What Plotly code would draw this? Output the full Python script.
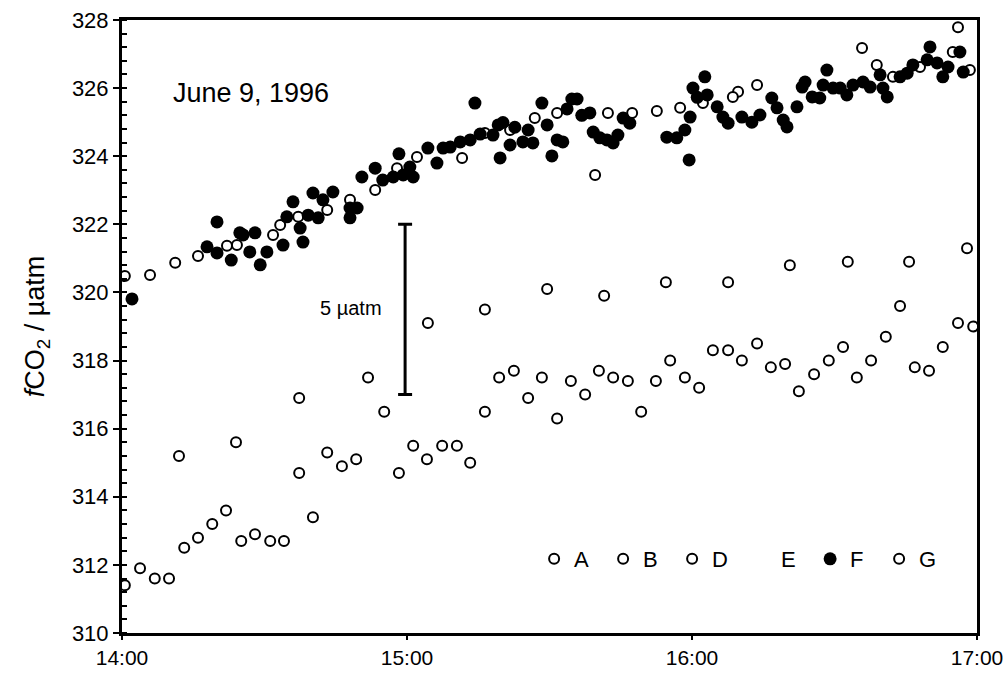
import plotly.graph_objects as go

# time in minutes after 14:00, values in uatm
A_t = [0.6, 5.9, 11.2, 16.0, 22.1, 33.3, 43.2, 53.3, 62.1, 76.4, 86.9, 96.8, 102.3, 112.6, 122.3, 129.7, 155.8, 162.3, 174.9, 178.5]
A_v = [320.48, 320.51, 320.87, 321.07, 321.37, 321.98, 322.42, 323.01, 323.98, 324.68, 325.12, 325.20, 325.27, 325.33, 325.56, 325.89, 327.18, 326.33, 327.06, 326.53]

D_t = [24.2, 31.8, 37.1, 48.0, 57.9, 71.6, 81.7, 91.6, 99.6, 107.4, 117.5, 128.6, 133.7, 158.9, 168.0, 176.0]
D_v = [321.39, 321.69, 322.22, 322.72, 323.65, 323.95, 324.77, 325.27, 323.45, 325.27, 325.42, 325.74, 326.09, 326.68, 326.62, 327.79]

F_t = [2.1, 17.9, 20.0, 20.0, 23.0, 24.8, 25.5, 26.9, 28.0, 29.1, 30.5, 33.9, 34.7, 36.0, 37.5, 38.1,
       39.2, 40.2, 41.3, 42.3, 44.4, 48.0, 48.0, 49.5, 50.5, 53.3, 54.9, 57.1, 58.3, 59.2, 60.6, 61.3,
       64.4, 66.3, 67.6, 69.1, 71.2, 73.3, 74.3, 75.4, 78.1, 79.2, 79.6, 80.2, 81.7, 82.7, 84.4, 85.5,
       86.5, 88.4, 89.5, 90.5, 91.6, 92.8, 93.7, 94.7, 95.8, 96.8, 98.5, 99.2, 100.6, 102.1, 103.4, 104.4,
       105.5, 106.9, 114.7, 116.8, 118.5, 119.4, 119.6, 120.2, 121.1, 122.7, 123.2, 125.3, 126.5, 127.6,
       130.5, 132.6, 134.3, 136.8, 137.9, 139.2, 140.0, 142.1, 143.2, 143.8, 145.3, 146.9, 147.6, 148.4,
       149.7, 151.2, 152.6, 153.9, 156.0, 157.5, 159.6, 160.2, 161.1, 163.8, 165.3, 166.5, 169.5, 170.1,
       171.6, 172.8, 173.9, 176.4, 177.1]
F_v = [319.81, 321.34, 322.07, 321.16, 320.95, 321.75, 321.69, 321.19, 321.75, 320.81, 321.19, 321.39, 322.22, 322.66, 321.89, 321.48,
       322.27, 322.92, 322.19, 322.72, 322.95, 322.19, 322.48, 322.48, 323.39, 323.65, 323.30, 323.39, 324.07, 323.45, 323.68, 323.39,
       324.24, 323.80, 324.24, 324.27, 324.42, 324.48, 325.56, 324.65, 324.62, 324.92, 323.95, 324.99, 324.33, 324.85, 324.42, 324.77,
       324.39, 325.56, 324.92, 324.01, 324.48, 324.42, 325.39, 325.68, 325.68, 325.20, 325.27, 324.71, 324.54, 324.48, 324.39, 324.62,
       325.12, 324.97, 324.56, 324.54, 324.77, 323.89, 325.15, 326.00, 325.73, 326.33, 325.80, 325.45, 325.15, 324.97,
       325.15, 325.00, 325.21, 325.71, 325.42, 325.06, 324.86, 325.45, 326.03, 326.18, 325.74, 325.71, 326.09, 326.53,
       326.00, 326.00, 325.80, 326.09, 326.18, 326.03, 326.39, 326.00, 325.74, 326.33, 326.44, 326.68, 326.83, 327.21,
       326.74, 326.33, 326.62, 327.06, 326.47]

B_t = [0.6, 3.8, 6.9, 9.9, 13.1, 16.0, 19.0, 21.9, 25.1, 28.0, 31.2, 34.1, 37.3, 40.2, 43.2, 46.3, 49.3,
       55.2, 58.3, 61.3, 64.2, 67.4, 70.5, 73.3, 76.4, 79.4, 82.5, 85.5, 88.4, 91.6, 94.5, 97.5, 100.4,
       103.4, 106.5, 109.3, 112.4, 115.4, 118.5, 121.5, 124.4, 127.6, 130.5, 133.7, 136.6, 139.6, 142.5,
       145.7, 148.8, 151.8, 154.7, 157.7, 160.8, 163.8, 166.9, 169.9, 172.8, 176.0, 179.2]
B_v = [311.4, 311.9, 311.6, 311.6, 312.5, 312.8, 313.2, 313.6, 312.7, 312.9, 312.7, 312.7, 314.7, 313.4, 315.3, 314.9, 315.1,
       316.5, 314.7, 315.5, 315.1, 315.5, 315.5, 315.0, 316.5, 317.5, 317.7, 316.9, 317.5, 316.3, 317.4, 317.0, 317.7,
       317.5, 317.4, 316.5, 317.4, 318.0, 317.5, 317.2, 318.3, 318.3, 318.0, 318.5, 317.8, 317.9, 317.1,
       317.6, 318.0, 318.4, 317.5, 318.0, 318.7, 319.6, 317.8, 317.7, 318.4, 319.1, 319.0]

G_t = [12.0, 24.0, 37.3, 51.8, 64.4, 76.4, 89.5, 101.5, 114.5, 127.6, 140.6, 152.8, 165.7, 177.9]
G_v = [315.2, 315.6, 316.9, 317.5, 319.1, 319.5, 320.1, 319.9, 320.3, 320.3, 320.8, 320.9, 320.9, 321.3]

# series E has no visible points in the figure
E_t = [None]
E_v = [None]

x_tickvals = [0, 60, 120, 180]
x_ticktext = ["14:00", "15:00", "16:00", "17:00"]

scale_bar_t = [59.6]
scale_bar_mid = [319.5]
scale_bar_half = [2.5]

FONT = "Arial, Liberation Sans, sans-serif"
open_marker = dict(symbol="circle", size=10, color="white", line=dict(color="black", width=2))
filled_marker = dict(symbol="circle", size=13, color="black", line=dict(color="black", width=0))

fig = go.Figure()
fig.add_trace(go.Scatter(x=A_t, y=A_v, mode="markers", name="A", marker=open_marker))
fig.add_trace(go.Scatter(x=B_t, y=B_v, mode="markers", name="B", marker=open_marker))
fig.add_trace(go.Scatter(x=D_t, y=D_v, mode="markers", name="D", marker=open_marker))
fig.add_trace(go.Scatter(x=E_t, y=E_v, mode="markers", name="E",
                         marker=dict(symbol="circle", size=10, color="rgba(255,255,255,0)",
                                     line=dict(color="rgba(255,255,255,0)", width=0))))
fig.add_trace(go.Scatter(x=F_t, y=F_v, mode="markers", name="F", marker=filled_marker))
fig.add_trace(go.Scatter(x=G_t, y=G_v, mode="markers", name="G", marker=open_marker))

# 5 uatm scale bar
fig.add_trace(go.Scatter(x=scale_bar_t, y=scale_bar_mid, mode="markers", showlegend=False,
                         marker=dict(size=1, color="rgba(0,0,0,0)"),
                         error_y=dict(type="data", array=scale_bar_half, color="black", thickness=3, width=7)))

fig.add_annotation(text="June 9, 1996", xref="paper", yref="paper", x=0.151, y=0.881,
                   xanchor="center", yanchor="middle",
                   showarrow=False, font=dict(family=FONT, size=27, color="black"))
fig.add_annotation(text="5 µatm", xref="paper", yref="paper", x=0.268, y=0.530,
                   xanchor="center", yanchor="middle",
                   showarrow=False, font=dict(family=FONT, size=20, color="black"))

fig.update_layout(
    width=1008, height=677,
    margin=dict(l=122, r=31, t=20, b=44, autoexpand=False),
    paper_bgcolor="white", plot_bgcolor="white",
    font=dict(family=FONT, color="black"),
    showlegend=True,
    legend=dict(orientation="h", x=0.482, y=0.1207, xanchor="left", yanchor="middle",
                font=dict(family=FONT, size=22, color="black"),
                bgcolor="rgba(255,255,255,0)", entrywidth=24, entrywidthmode="pixels",
                itemwidth=30),
)
fig.update_xaxes(range=[0, 180], tickvals=x_tickvals, ticktext=x_ticktext,
                 showgrid=False, zeroline=False, showline=True, linecolor="black", linewidth=3, mirror=True,
                 ticks="outside", ticklen=4, tickwidth=2, tickcolor="black",
                 tickfont=dict(family=FONT, size=21, color="black"))
fig.update_yaxes(range=[310, 328], dtick=2, tick0=310,
                 showgrid=False, zeroline=False, showline=True, linecolor="black", linewidth=3, mirror=True,
                 ticks="outside", ticklen=6, tickwidth=2, tickcolor="black",
                 minor=dict(dtick=0.4, tick0=310, ticks="inside", ticklen=5, tickwidth=2, tickcolor="black"),
                 tickfont=dict(family=FONT, size=22, color="black"),
                 title=dict(text="<i>f</i>CO<sub>2</sub> / µatm", font=dict(family=FONT, size=27, color="black"),
                            standoff=20))

fig.write_html("out.html")
